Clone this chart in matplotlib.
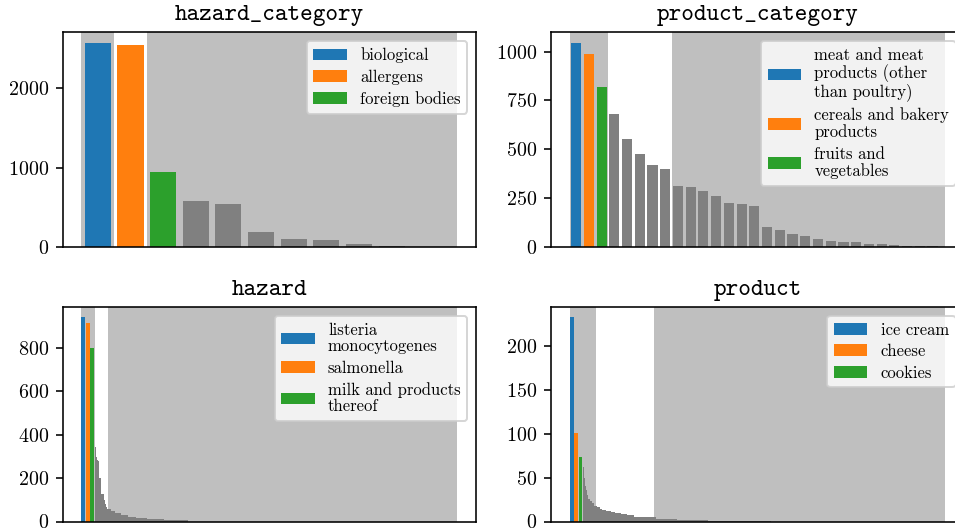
import numpy as np
import matplotlib
matplotlib.use("Agg")
import matplotlib.pyplot as plt
from matplotlib.ticker import MultipleLocator

plt.rcParams["font.family"] = "serif"
plt.rcParams["font.serif"] = ["cmr10"]
plt.rcParams["mathtext.fontset"] = "cm"
plt.rcParams["axes.formatter.use_mathtext"] = True
plt.rcParams["font.size"] = 10

# hazard_category: counts per class, sorted
hc_labels = ["biological", "allergens", "foreign bodies"]
hc_counts = [2578, 2553, 945, 578, 540, 186, 97, 84, 34, 6, 2]
hc_spans = [0, 1, 2, 11.5]

# product_category
pc_labels = ["meat and meat\nproducts (other\nthan poultry)",
             "cereals and bakery\nproducts",
             "fruits and\nvegetables"]
pc_counts = [1046, 990, 820, 681, 553, 476, 420, 399, 312, 306, 286, 260, 224,
             219, 209, 99, 88, 63, 57, 37, 27, 22, 22, 12, 12, 7, 6, 3, 2]
pc_spans = [0, 3, 8, 29.5]

# hazard: top 3 + long tail (tail as levels / run lengths)
hz_labels = ["listeria\nmonocytogenes", "salmonella", "milk and products\nthereof"]
hz_top = [940, 912, 797]
hz_tail_levels = [343, 295, 282, 277, 200, 125, 97, 82, 69, 58, 48, 38, 29, 22, 15, 11, 6]
hz_tail_runs = [1, 1, 1, 1, 2, 3, 1, 1, 1, 4, 4, 6, 7, 8, 11, 17, 25]
hz_spans = [0, 13.3, 26.6, 376.6]

# product
pr_labels = ["ice cream", "cheese", "cookies"]
pr_top = [232, 101, 73]
pr_tail_levels = [62, 50, 40, 36, 30, 26, 23, 21, 18, 16, 14, 13, 12, 11, 10, 8, 7, 5, 3, 2, 1]
pr_tail_runs = [1, 1, 1, 1, 1, 2, 2, 2, 3, 3, 2, 4, 5, 4, 6, 6, 7, 22, 21, 31, 63]
pr_spans = [0, 26.7, 84, 376]

top_colors = ["C0", "C1", "C2"]


def shade(ax, spans):
    ax.axvspan(spans[0], spans[1], color="gray", alpha=0.5, lw=0)
    ax.axvspan(spans[2], spans[3], color="gray", alpha=0.5, lw=0)


def finish(ax, title, step):
    ax.set_title(title, family="cmtt10", fontsize=12)
    ax.set_xticks([])
    ax.yaxis.set_major_locator(MultipleLocator(step))
    leg = ax.legend(loc="upper right", fontsize="small", labelspacing=0.38)
    for t in leg.get_texts():
        t.set_linespacing(1.1)


def category_panel(ax, title, labels, counts, spans, step):
    shade(ax, spans)
    x = np.arange(len(counts)) + 0.5
    ax.bar(x[3:], counts[3:], width=0.8, color="gray")
    for i in range(3):
        ax.bar(x[i], counts[i], width=0.8, color=top_colors[i], label=labels[i])
    finish(ax, title, step)


def tail_panel(ax, title, labels, top, levels, runs, spans, step, pitch=4.45):
    shade(ax, spans)
    for i in range(3):
        ax.bar(i * pitch, top[i], width=0.85 * pitch, align="edge",
               color=top_colors[i], label=labels[i])
    edges = 3 * pitch + np.concatenate([[0], np.cumsum(runs)])
    ax.stairs(levels, edges, fill=True, color="gray")
    finish(ax, title, step)


W, H = 955, 528
fig = plt.figure(figsize=(W / 144, H / 144), dpi=144)
aw, ah = 413 / W, 214.3 / H
ax1 = fig.add_axes([62.7 / W, 1 - 246.7 / H, aw, ah])
ax2 = fig.add_axes([551 / W, 1 - 246.7 / H, aw, ah])
ax3 = fig.add_axes([62.7 / W, 1 - 521.5 / H, aw, ah])
ax4 = fig.add_axes([551 / W, 1 - 521.5 / H, aw, ah])

category_panel(ax1, "hazard_category", hc_labels, hc_counts, hc_spans, 1000)
category_panel(ax2, "product_category", pc_labels, pc_counts, pc_spans, 250)
tail_panel(ax3, "hazard", hz_labels, hz_top, hz_tail_levels, hz_tail_runs, hz_spans, 200)
tail_panel(ax4, "product", pr_labels, pr_top, pr_tail_levels, pr_tail_runs, pr_spans, 50)

fig.savefig("out.png", dpi=144)
